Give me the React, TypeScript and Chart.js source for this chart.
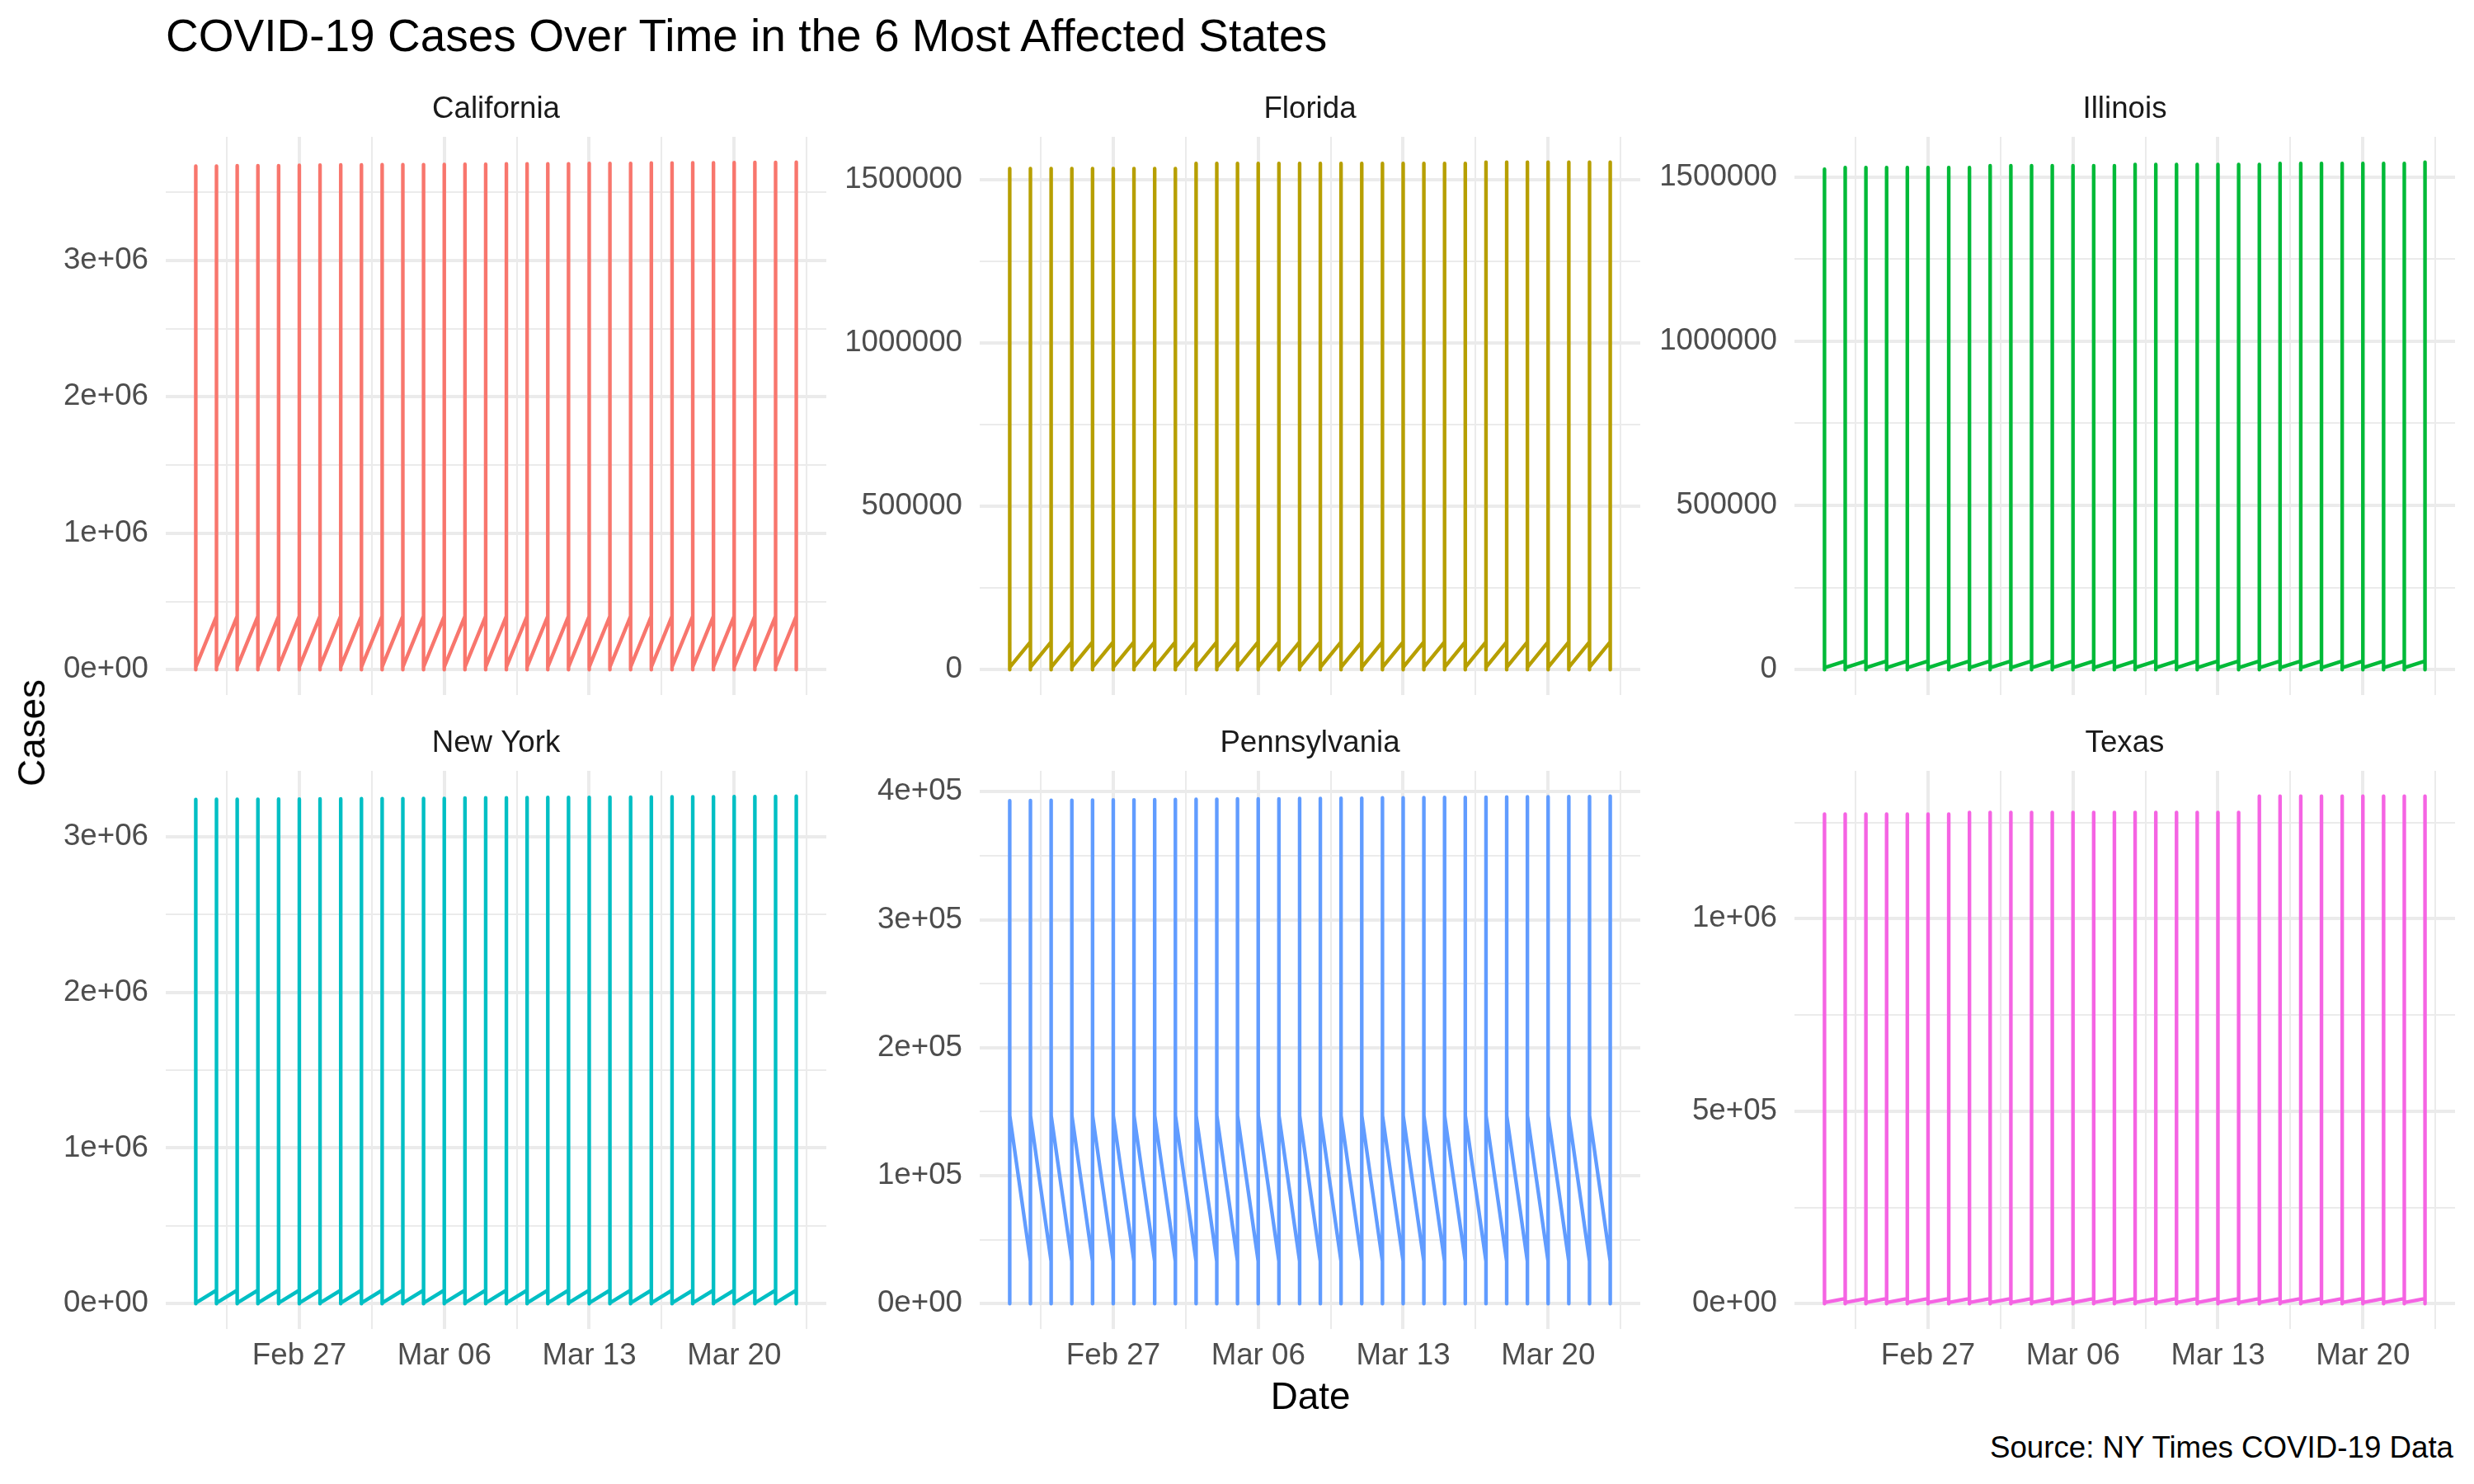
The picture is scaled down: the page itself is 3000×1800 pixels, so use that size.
import React, { useEffect, useRef } from "react";
import { Chart, registerables } from "chart.js";

Chart.register(...registerables);

const FONT = "'Liberation Sans', Arial, Helvetica, sans-serif";

// ---------- data ----------
const DATES = [
  "2023-02-22", "2023-02-23", "2023-02-24", "2023-02-25", "2023-02-26", "2023-02-27", "2023-02-28",
  "2023-03-01", "2023-03-02", "2023-03-03", "2023-03-04", "2023-03-05", "2023-03-06", "2023-03-07",
  "2023-03-08", "2023-03-09", "2023-03-10", "2023-03-11", "2023-03-12", "2023-03-13", "2023-03-14",
  "2023-03-15", "2023-03-16", "2023-03-17", "2023-03-18", "2023-03-19", "2023-03-20", "2023-03-21",
  "2023-03-22", "2023-03-23",
];

const X_TICK_DATES = ["2023-02-27", "2023-03-06", "2023-03-13", "2023-03-20"];
const X_TICK_LABELS = ["Feb 27", "Mar 06", "Mar 13", "Mar 20"];

const STATES = ["California", "Florida", "Illinois", "New York", "Pennsylvania", "Texas"];
const COLORS = ["#F8766D", "#B79F00", "#00BA38", "#00BFC4", "#619CFF", "#F564E3"];

// largest county value on each date
const CA_TOP = [
  3692000, 3692000, 3694000, 3694000, 3694000, 3698000, 3699000, 3701000, 3701000, 3702000,
  3702000, 3703000, 3704000, 3705000, 3705000, 3708000, 3708000, 3708000, 3709000, 3712000,
  3712000, 3712000, 3714000, 3714000, 3716000, 3716000, 3717000, 3719000, 3719000, 3720000,
];
const FL_TOP = [
  1532800, 1532800, 1532800, 1532800, 1532800, 1532800, 1532800, 1532800, 1532800, 1548600,
  1548600, 1548600, 1548600, 1548600, 1548600, 1548600, 1548600, 1548600, 1548600, 1548600,
  1548600, 1548600, 1548600, 1552400, 1552400, 1552400, 1552400, 1552400, 1552400, 1552400,
];
const IL_TOP = [
  1523500, 1528500, 1528500, 1528500, 1528500, 1528500, 1528500, 1528500, 1534000, 1534000,
  1534000, 1534000, 1534000, 1534000, 1534000, 1537800, 1537800, 1537800, 1537800, 1537800,
  1537800, 1537800, 1541200, 1541200, 1541200, 1541200, 1541200, 1541200, 1541200, 1544600,
];
const NY_TOP = [
  3240000, 3241000, 3241000, 3242000, 3243000, 3243000, 3244000, 3244000, 3245000, 3246000,
  3246000, 3247000, 3247000, 3250000, 3251000, 3251000, 3252000, 3253000, 3253000, 3254000,
  3255000, 3255000, 3256000, 3257000, 3257000, 3258000, 3259000, 3259000, 3260000, 3261000,
];
const PA_TOP = [
  393000, 393100, 393300, 393300, 393500, 393600, 393700, 393800, 394000, 394100,
  394200, 394400, 394500, 394500, 394700, 394800, 394900, 395000, 395200, 395300,
  395400, 395500, 395600, 395700, 395900, 396000, 396100, 396200, 396300, 396500,
];
const TX_TOP = [
  1271800, 1271800, 1271800, 1271800, 1271800, 1271800, 1271800, 1276300, 1276300, 1276300,
  1276300, 1276300, 1276300, 1276300, 1276300, 1276300, 1276300, 1276300, 1276300, 1276300,
  1276300, 1318200, 1318200, 1318200, 1318200, 1318200, 1318200, 1318200, 1318200, 1318200,
];

// counties in alphabetical order on each date: [first county, smallest county, last county]
const CA_PROFILE = [392000, 0, 20000];
const FL_PROFILE = [85000, 0, 7000];
const IL_PROFILE = [26000, 0, 6000];
const NY_PROFILE = [86000, 0, 5000];
const PA_PROFILE = [33000, 0, 147000];
const TX_PROFILE = [13000, 0, 3000];

// y-axis breaks and labels
const CA_Y_BREAKS = [0, 1000000, 2000000, 3000000];
const CA_Y_LABELS = ["0e+00", "1e+06", "2e+06", "3e+06"];
const FL_Y_BREAKS = [0, 500000, 1000000, 1500000];
const FL_Y_LABELS = ["0", "500000", "1000000", "1500000"];
const IL_Y_BREAKS = [0, 500000, 1000000, 1500000];
const IL_Y_LABELS = ["0", "500000", "1000000", "1500000"];
const NY_Y_BREAKS = [0, 1000000, 2000000, 3000000];
const NY_Y_LABELS = ["0e+00", "1e+06", "2e+06", "3e+06"];
const PA_Y_BREAKS = [0, 100000, 200000, 300000, 400000];
const PA_Y_LABELS = ["0e+00", "1e+05", "2e+05", "3e+05", "4e+05"];
const TX_Y_BREAKS = [0, 500000, 1000000];
const TX_Y_LABELS = ["0e+00", "5e+05", "1e+06"];

const PANELS = [
  { name: STATES[0], color: COLORS[0], top: CA_TOP, profile: CA_PROFILE, breaks: CA_Y_BREAKS, labels: CA_Y_LABELS },
  { name: STATES[1], color: COLORS[1], top: FL_TOP, profile: FL_PROFILE, breaks: FL_Y_BREAKS, labels: FL_Y_LABELS },
  { name: STATES[2], color: COLORS[2], top: IL_TOP, profile: IL_PROFILE, breaks: IL_Y_BREAKS, labels: IL_Y_LABELS },
  { name: STATES[3], color: COLORS[3], top: NY_TOP, profile: NY_PROFILE, breaks: NY_Y_BREAKS, labels: NY_Y_LABELS },
  { name: STATES[4], color: COLORS[4], top: PA_TOP, profile: PA_PROFILE, breaks: PA_Y_BREAKS, labels: PA_Y_LABELS },
  { name: STATES[5], color: COLORS[5], top: TX_TOP, profile: TX_PROFILE, breaks: TX_Y_BREAKS, labels: TX_Y_LABELS },
];

// ---------- layout ----------
const PANEL_W = 801;
const PANEL_H = 677;
const COL_L = [201, 1188, 2176];
const ROW_T = [166, 935];
const YW = 180;
const STRIP = 63;
const XH_BOTTOM = 80;

const GRID = "#EBEBEB";
const MAJOR_W = 4;
const MINOR_W = 2;

function buildSeries(top: number[], profile: number[]) {
  const pts: { x: number; y: number }[] = [];
  DATES.forEach((_, i) => {
    pts.push({ x: i, y: profile[0] });
    pts.push({ x: i, y: top[i] });
    pts.push({ x: i, y: profile[1] });
    pts.push({ x: i, y: profile[2] });
  });
  return pts;
}

function withMinors(breaks: number[], lo: number, hi: number) {
  const step = breaks[1] - breaks[0];
  const ext = [breaks[0] - step, ...breaks, breaks[breaks.length - 1] + step];
  const minors: number[] = [];
  for (let i = 0; i < ext.length - 1; i++) minors.push((ext[i] + ext[i + 1]) / 2);
  return [...breaks, ...minors].filter((v) => v >= lo && v <= hi).sort((a, b) => a - b);
}

function PanelChart({ idx }: { idx: number }) {
  const ref = useRef<HTMLCanvasElement | null>(null);
  const p = PANELS[idx];
  const col = idx % 3;
  const row = Math.floor(idx / 3);
  const width = YW + PANEL_W;
  const height = STRIP + PANEL_H + (row === 1 ? XH_BOTTOM : 0);

  useEffect(() => {
    if (!ref.current) return;
    const pts = buildSeries(p.top, p.profile);
    const ys = pts.map((d) => d.y);
    const yMin = Math.min(...ys);
    const yMax = Math.max(...ys);
    const yr = yMax - yMin;
    const yLo = yMin - 0.05 * yr;
    const yHi = yMax + 0.05 * yr;
    const xr = DATES.length - 1;
    const xLo = -0.05 * xr;
    const xHi = xr + 0.05 * xr;

    const xMajor = X_TICK_DATES.map((d) => DATES.indexOf(d));
    const xTicks = withMinors(xMajor, xLo, xHi);
    const yTicks = withMinors(p.breaks, yLo, yHi);

    const isXMajor = (v: number) => xMajor.some((m) => Math.abs(m - v) < 1e-9);
    const isYMajor = (v: number) => p.breaks.some((m) => Math.abs(m - v) < 1e-6);

    const tickFont = { family: FONT, size: 36.7, lineHeight: "44px", weight: "normal" as const };

    const chart = new Chart(ref.current, {
      type: "line",
      data: {
        datasets: [
          {
            data: pts,
            borderColor: p.color,
            backgroundColor: p.color,
            borderWidth: 4.4,
            pointRadius: 0,
            pointHoverRadius: 0,
            borderJoinStyle: "round",
            borderCapStyle: "butt",
            fill: false,
            tension: 0,
          },
        ],
      },
      options: {
        responsive: false,
        animation: false,
        devicePixelRatio: 1,
        events: [],
        layout: { padding: 0 },
        plugins: {
          legend: { display: false },
          tooltip: { enabled: false },
          title: {
            display: true,
            text: p.name,
            color: "#1A1A1A",
            fullSize: false,
            font: { family: FONT, size: 36.7, lineHeight: "44px", weight: "normal" },
            padding: { top: 8, bottom: 11 },
          },
        },
        scales: {
          x: {
            type: "linear",
            min: xLo,
            max: xHi,
            bounds: "data",
            border: { display: false },
            grid: {
              color: GRID,
              drawTicks: false,
              lineWidth: (ctx: any) => (ctx.tick && isXMajor(ctx.tick.value) ? MAJOR_W : MINOR_W),
            },
            ticks: {
              display: row === 1,
              autoSkip: false,
              maxRotation: 0,
              minRotation: 0,
              padding: 11,
              color: "#4D4D4D",
              font: tickFont,
              callback: (v: any) => {
                const k = xMajor.findIndex((m) => Math.abs(m - Number(v)) < 1e-9);
                return k >= 0 ? X_TICK_LABELS[k] : "";
              },
            },
            afterBuildTicks: (s: any) => {
              s.ticks = xTicks.map((v) => ({ value: v }));
            },
            afterFit: (s: any) => {
              s.height = row === 1 ? XH_BOTTOM : 0;
              s.paddingLeft = 0;
              s.paddingRight = 0;
              s.paddingTop = 0;
              s.paddingBottom = 0;
            },
          },
          y: {
            type: "linear",
            position: "left",
            min: yLo,
            max: yHi,
            bounds: "data",
            border: { display: false },
            grid: {
              color: GRID,
              drawTicks: false,
              lineWidth: (ctx: any) => (ctx.tick && isYMajor(ctx.tick.value) ? MAJOR_W : MINOR_W),
            },
            ticks: {
              autoSkip: false,
              padding: 21,
              color: "#4D4D4D",
              font: tickFont,
              callback: (v: any) => {
                const k = p.breaks.findIndex((m) => Math.abs(m - Number(v)) < 1e-6);
                return k >= 0 ? p.labels[k] : "";
              },
            },
            afterBuildTicks: (s: any) => {
              s.ticks = yTicks.map((v) => ({ value: v }));
            },
            afterFit: (s: any) => {
              s.width = YW;
              s.paddingLeft = 0;
              s.paddingRight = 0;
              s.paddingTop = 0;
              s.paddingBottom = 0;
            },
          },
        },
      },
    } as any);
    return () => chart.destroy();
  }, []);

  return (
    <canvas
      ref={ref}
      width={width}
      height={height}
      style={{
        position: "absolute",
        left: COL_L[col] - YW,
        top: ROW_T[row] - STRIP,
        width,
        height,
      }}
    />
  );
}

export default function App() {
  const text = (style: React.CSSProperties, content: string) => (
    <div
      style={{
        position: "absolute",
        fontFamily: FONT,
        whiteSpace: "nowrap",
        ...style,
      }}
    >
      {content}
    </div>
  );
  return (
    <div
      style={{
        position: "absolute",
        left: 0,
        top: 0,
        width: 3000,
        height: 1800,
        background: "#FFFFFF",
        overflow: "hidden",
      }}
    >
      {PANELS.map((_, i) => (
        <PanelChart key={i} idx={i} />
      ))}
      {text(
        { left: 201, top: 15.5, fontSize: 55, lineHeight: "55px", color: "#000000" },
        "COVID-19 Cases Over Time in the 6 Most Affected States"
      )}
      {text(
        {
          left: 1589 - 150,
          top: 1694 - 22.9,
          width: 300,
          textAlign: "center",
          fontSize: 45.8,
          lineHeight: "45.8px",
          color: "#000000",
        },
        "Date"
      )}
      {text(
        {
          left: 39 - 150,
          top: 889 - 22.9,
          width: 300,
          height: 45.8,
          textAlign: "center",
          fontSize: 45.8,
          lineHeight: "45.8px",
          color: "#000000",
          transform: "rotate(-90deg)",
          transformOrigin: "50% 50%",
        },
        "Cases"
      )}
      {text(
        {
          left: 2975 - 1200,
          top: 1756 - 18.35,
          width: 1200,
          textAlign: "right",
          fontSize: 36.7,
          lineHeight: "36.7px",
          color: "#000000",
        },
        "Source: NY Times COVID-19 Data"
      )}
    </div>
  );
}
